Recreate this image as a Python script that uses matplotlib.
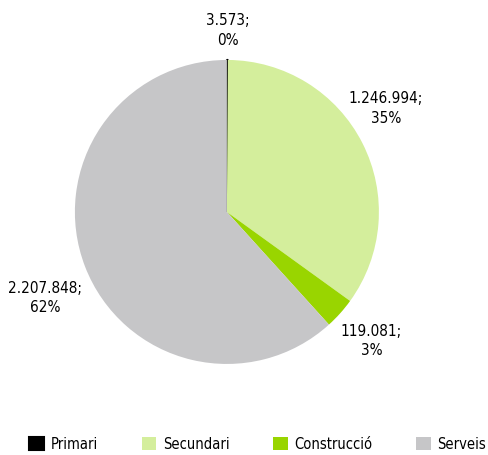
import matplotlib
matplotlib.use('Agg')
import matplotlib.pyplot as plt
import numpy as np

# dades
sectors = ['Primari', 'Secundari', 'Construcció', 'Serveis']
valors = [3573, 1246994, 119081, 2207848]
colors = ['#000000', '#d4ee9c', '#99d500', '#c6c6c8']

plt.rcParams['font.family'] = ['DejaVu Sans']
plt.rcParams['font.stretch'] = 'condensed'


def fmt_num(v):
    return f"{v:,}".replace(',', '.')


total = sum(valors)
etiquetes = [f"{fmt_num(v)};\n{round(v / total * 100):.0f}%" for v in valors]

fig = plt.figure(figsize=(4.89, 4.56), dpi=100)
r = 152 / 100
ax = fig.add_axes([0.464 - r / 4.89, 0.533 - r / 4.56, 2 * r / 4.89, 2 * r / 4.56])

wedges, _ = ax.pie(valors, colors=colors, startangle=90, counterclock=False)
wedges[0].set_edgecolor('black')
wedges[0].set_linewidth(1.5)
wedges[0].set_joinstyle('bevel')

# posicio de les etiquetes: distancia i desplacament d'angle per sector
dist = [1.2, 1.25, 1.27, 1.32]
desp = [0, 6.4, 0.3, 4]
for w, txt, d, a in zip(wedges, etiquetes, dist, desp):
    ang = np.deg2rad((w.theta1 + w.theta2) / 2 + a)
    ax.text(d * np.cos(ang), d * np.sin(ang), txt, ha='center', va='center',
            fontsize=11, linespacing=1.4)

ax.set_xlim(-1, 1)
ax.set_ylim(-1, 1)
ax.set_aspect('equal')

fig.legend(wedges, sectors, loc='center', bbox_to_anchor=(0.527, 1 - 445 / 456),
           ncol=4, frameon=False, fontsize=10.5, handlelength=1.0, handleheight=1.0,
           columnspacing=3.0, handletextpad=0.45)

fig.savefig('out.png', dpi=100)
